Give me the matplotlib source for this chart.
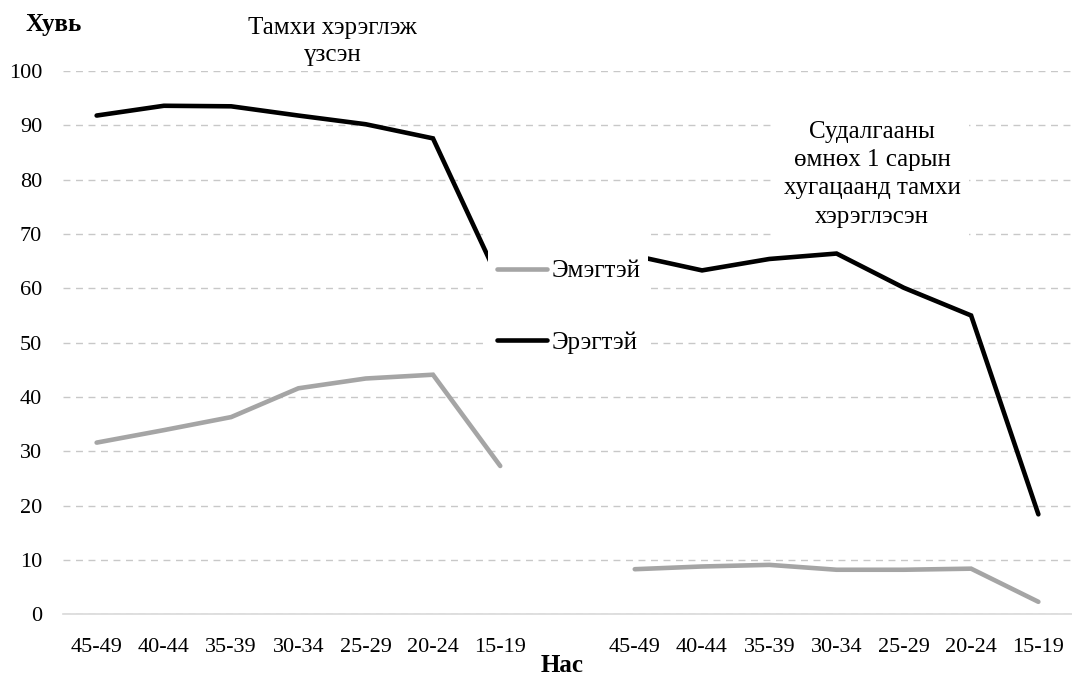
"""
Smoking prevalence by age group, men vs women (two panels on one axis).
Left block: ever smoked; right block: smoked in the month before the survey.
"""

import numpy as np
import matplotlib.pyplot as plt
from matplotlib.patches import Rectangle

plt.rcParams["font.family"] = ["Liberation Serif", "DejaVu Serif"]

# -----------------------------------------------------------------------------
# Data
# -----------------------------------------------------------------------------
age_groups = ["45-49", "40-44", "35-39", "30-34", "25-29", "20-24", "15-19"]

ever_men = [91.8, 93.6, 93.5, 91.8, 90.2, 87.6, 61.0]
ever_women = [31.6, 33.9, 36.3, 41.6, 43.4, 44.1, 27.3]

month_men = [66.0, 63.3, 65.4, 66.4, 60.1, 55.0, 18.4]
month_women = [8.3, 8.8, 9.1, 8.2, 8.2, 8.4, 2.3]

label_women = "Эмэгтэй"
label_men = "Эрэгтэй"
note_ever = "Тамхи хэрэглэж\nүзсэн"
note_month = "Судалгааны\nөмнөх 1 сарын\nхугацаанд тамхи\nхэрэглэсэн"
y_title = "Хувь"
x_title = "Нас"

GREY = "#A5A5A5"
BLACK = "#000000"
GRID = "#C8C8C8"

# one empty slot between the two blocks
n = len(age_groups)
x_left = np.arange(n)
x_right = np.arange(n) + n + 1
ticks = np.concatenate([x_left, x_right])
ticklabels = age_groups + age_groups

fig = plt.figure(figsize=(10.72, 6.75), dpi=100)
ax = fig.add_axes([63 / 1072, 1 - 614.3 / 675, 1 - 63 / 1072, (614.3 - 71) / 675])

lw = 3.3
style = dict(lw=lw, solid_capstyle="round", solid_joinstyle="miter", zorder=3)
ax.plot(x_left, ever_women, color=GREY, label=label_women, **style)
ax.plot(x_left, ever_men, color=BLACK, label=label_men, **style)
ax.plot(x_right, month_women, color=GREY, **style)
ax.plot(x_right, month_men, color=BLACK, **style)

ax.set_xlim(-0.5, 2 * n + 0.5)
ax.set_ylim(0, 100)
ax.set_yticks(range(0, 101, 10))
ax.set_xticks(ticks)
ax.set_xticklabels(ticklabels)
ax.tick_params(axis="both", length=0, labelsize=16)
ax.tick_params(axis="x", pad=17)
ax.tick_params(axis="y", pad=15)

for s in ("top", "right", "left"):
    ax.spines[s].set_visible(False)
ax.spines["bottom"].set_color("#D9D9D9")
ax.spines["bottom"].set_linewidth(1.2)

ax.yaxis.grid(True, color=GRID, ls=(0, (5, 4)), lw=1.0)
ax.set_axisbelow(True)

# white legend box sitting over the gap between the blocks
ax.add_patch(Rectangle((5.82, 44.5), 2.38, 29.5, facecolor="white",
                       edgecolor="none", zorder=4))
leg = ax.legend(loc="center", bbox_to_anchor=(0.5015, 0.566), frameon=False,
                fontsize=18, handlelength=2.0, handletextpad=0.2,
                labelspacing=1.95)
leg.set_zorder(5)

ax.text(3.51, 105.5, note_ever, ha="center", va="center", fontsize=18,
        linespacing=1.3, bbox=dict(facecolor="white", edgecolor="none", pad=2),
        clip_on=False, zorder=5)
ax.text(11.53, 81.0, note_month, ha="center", va="center", fontsize=18,
        linespacing=1.38, bbox=dict(facecolor="white", edgecolor="none", pad=6),
        zorder=5)

fig.text(25 / 1072, 1 - 25 / 675, y_title, ha="left", va="center",
         fontsize=18, fontweight="bold")
fig.text(562 / 1072, 1 - 665 / 675, x_title, ha="center", va="center",
         fontsize=18, fontweight="bold")

fig.savefig("out.png", dpi=100)
